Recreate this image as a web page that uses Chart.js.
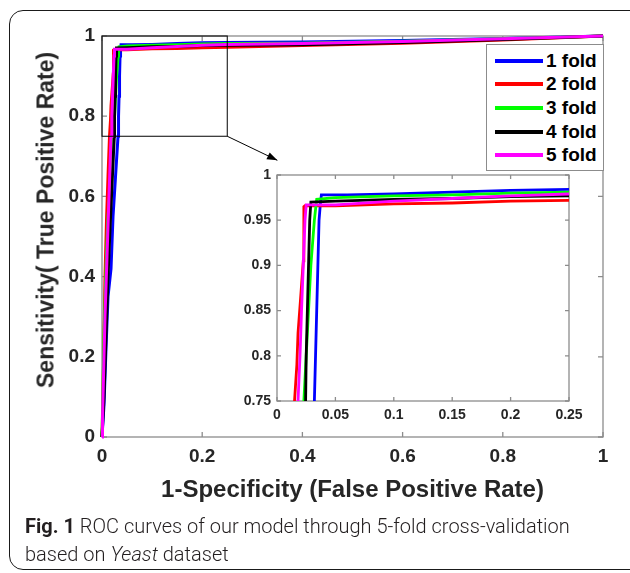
<!DOCTYPE html>
<html>
<head>
<meta charset="utf-8">
<script src="https://cdn.jsdelivr.net/npm/chart.js@4/dist/chart.umd.min.js"></script>
<style>
body { margin: 0; background: #fff; width: 630px; height: 573px; overflow: hidden; position: relative; }
#frame { position: absolute; left: 9px; top: 10px; width: 640px; height: 560px; border: 1.5px solid #1a1a1a; border-radius: 14px; box-sizing: border-box; }
#main { position: absolute; left: 0; top: 0; }
#inset { position: absolute; left: 225px; top: 160px; }
#ylabel { position: absolute; left: 46px; top: 220px; transform: translate(-50%, -50%) rotate(-90deg); white-space: nowrap; font: bold 23px "Liberation Sans", Arial, sans-serif; color: #262626; line-height: 1; }
#legend { position: absolute; left: 486px; top: 44px; width: 118px; height: 127px; box-sizing: border-box; border: 1px solid #8c8c8c; background: #fff; padding-top: 4px; }
#legend .row { height: 23.6px; display: flex; align-items: center; font: bold 19px "Liberation Sans", Arial, sans-serif; color: #000; }
#legend .sw { width: 48px; height: 4px; margin-left: 8px; margin-right: 3px; }
#caption { position: absolute; left: 25px; top: 512px; font-family: Roboto, sans-serif; font-weight: 300; font-size: 20px; line-height: 28px; color: #231f20; }
#caption b { font-weight: 700; }
</style>
</head>
<body>
<div id="frame"></div>
<canvas id="main" width="630" height="520"></canvas>
<canvas id="inset" width="370" height="270"></canvas>
<div id="ylabel">Sensitivity( True Positive Rate)</div>
<div id="legend"></div>
<div id="caption"><b>Fig. 1</b> ROC curves of our model through 5-fold cross-validation<br>based on <i>Yeast</i> dataset</div>
<script>
const foldNames = ['1 fold', '2 fold', '3 fold', '4 fold', '5 fold'];
const foldColors = ['#0000ff', '#ff0000', '#00ff00', '#000000', '#ff00ff'];

// ROC points (FPR, TPR)
const fpr1 = [0, 0.004, 0.008, 0.012, 0.018, 0.022, 0.027, 0.032, 0.033, 0.034, 0.035, 0.036, 0.037, 0.038, 0.06, 0.1, 0.15, 0.2, 0.25, 0.4, 0.6, 0.8, 1];
const tpr1 = [0, 0.08, 0.22, 0.35, 0.42, 0.55, 0.65, 0.75, 0.80, 0.85, 0.90, 0.95, 0.966, 0.978, 0.978, 0.979, 0.981, 0.983, 0.984, 0.985, 0.989, 0.994, 1];
const fpr2 = [0, 0.002, 0.004, 0.006, 0.009, 0.012, 0.015, 0.017, 0.018, 0.020, 0.0225, 0.023, 0.024, 0.05, 0.1, 0.15, 0.2, 0.25, 0.4, 0.6, 0.8, 1];
const tpr2 = [0, 0.1, 0.25, 0.4, 0.54, 0.65, 0.75, 0.79, 0.825, 0.86, 0.905, 0.965, 0.966, 0.966, 0.968, 0.969, 0.971, 0.972, 0.976, 0.982, 0.99, 1];
const fpr3 = [0, 0.002, 0.004, 0.008, 0.012, 0.018, 0.023, 0.025, 0.027, 0.029, 0.032, 0.033, 0.034, 0.05, 0.1, 0.15, 0.2, 0.25, 0.4, 0.6, 0.8, 1];
const tpr3 = [0, 0.12, 0.25, 0.42, 0.55, 0.65, 0.75, 0.8, 0.85, 0.9, 0.95, 0.962, 0.973, 0.975, 0.977, 0.978, 0.98, 0.981, 0.982, 0.987, 0.993, 1];
const fpr4 = [0, 0.004, 0.008, 0.012, 0.016, 0.02, 0.0245, 0.025, 0.026, 0.027, 0.028, 0.029, 0.05, 0.1, 0.15, 0.2, 0.25, 0.4, 0.6, 0.8, 1];
const tpr4 = [0, 0.1, 0.25, 0.4, 0.52, 0.63, 0.75, 0.8, 0.85, 0.9, 0.95, 0.97, 0.971, 0.973, 0.974, 0.976, 0.977, 0.978, 0.984, 0.991, 1];
const fpr5 = [0, 0.001, 0.003, 0.006, 0.01, 0.014, 0.018, 0.0197, 0.021, 0.0225, 0.024, 0.025, 0.05, 0.1, 0.15, 0.2, 0.25, 0.4, 0.6, 0.8, 1];
const tpr5 = [0, 0.05, 0.15, 0.3, 0.45, 0.6, 0.75, 0.8, 0.85, 0.9, 0.95, 0.967, 0.967, 0.971, 0.974, 0.977, 0.979, 0.981, 0.986, 0.993, 1];

const mainTicks = [0, 0.2, 0.4, 0.6, 0.8, 1];
const insetXTicks = [0, 0.05, 0.1, 0.15, 0.2, 0.25];
const insetYTicks = [0.75, 0.8, 0.85, 0.9, 0.95, 1];
const zoomX = [0, 0.25];
const zoomY = [0.75, 1];
const arrowTip = [0.35, 0.69];

const folds = [[fpr1, tpr1], [fpr2, tpr2], [fpr3, tpr3], [fpr4, tpr4], [fpr5, tpr5]];
const TXT = '#262626';
const AXC = '#8c8c8c';

function makeDatasets(width, clip) {
    return folds.map((f, i) => ({
	label: foldNames[i],
	data: f[0].map((v, j) => ({x: v, y: f[1][j]})),
	borderColor: foldColors[i],
	borderWidth: width,
	pointRadius: 0,
	showLine: true,
	tension: 0,
	order: 4 - i,
	clip: clip
    }));
}

// matlab style box with inward ticks on all four sides
function boxPlugin(tickLen) {
    return {
	id: 'box',
	beforeDatasetsDraw(chart) {
	    const {ctx, chartArea: a, scales: {x, y}} = chart;
	    ctx.save();
	    ctx.strokeStyle = AXC;
	    ctx.lineWidth = 1.3;
	    ctx.strokeRect(a.left, a.top, a.right - a.left, a.bottom - a.top);
	    ctx.beginPath();
	    for (const t of x.ticks) {
		const px = x.getPixelForValue(t.value);
		ctx.moveTo(px, a.bottom); ctx.lineTo(px, a.bottom - tickLen);
		ctx.moveTo(px, a.top); ctx.lineTo(px, a.top + tickLen);
	    }
	    for (const t of y.ticks) {
		const py = y.getPixelForValue(t.value);
		ctx.moveTo(a.left, py); ctx.lineTo(a.left + tickLen, py);
		ctx.moveTo(a.right, py); ctx.lineTo(a.right - tickLen, py);
	    }
	    ctx.stroke();
	    ctx.restore();
	}
    };
}

const zoomMarker = {
    id: 'zoomMarker',
    afterDatasetsDraw(chart) {
	const {ctx, scales: {x, y}} = chart;
	const x0 = x.getPixelForValue(zoomX[0]), x1 = x.getPixelForValue(zoomX[1]);
	const y0 = y.getPixelForValue(zoomY[0]), y1 = y.getPixelForValue(zoomY[1]);
	const tx = x.getPixelForValue(arrowTip[0]), ty = y.getPixelForValue(arrowTip[1]);
	ctx.save();
	ctx.strokeStyle = '#000';
	ctx.fillStyle = '#000';
	ctx.lineWidth = 1;
	ctx.strokeRect(x0, y1, x1 - x0, y0 - y1);
	ctx.beginPath();
	ctx.moveTo(x1, y0); ctx.lineTo(tx, ty);
	ctx.stroke();
	const ang = Math.atan2(ty - y0, tx - x1);
	ctx.beginPath();
	ctx.moveTo(tx, ty);
	ctx.lineTo(tx - 11 * Math.cos(ang - 0.35), ty - 11 * Math.sin(ang - 0.35));
	ctx.lineTo(tx - 11 * Math.cos(ang + 0.35), ty - 11 * Math.sin(ang + 0.35));
	ctx.closePath();
	ctx.fill();
	ctx.restore();
    }
};

function axis(min, max, ticks, fontSize, pad, fitKey, fitVal, title) {
    const ax = {
	type: 'linear', min: min, max: max,
	grid: {display: false, drawTicks: false},
	border: {display: false},
	afterBuildTicks: s => { s.ticks = ticks.map(v => ({value: v})); },
	afterFit: s => { s[fitKey] = fitVal; },
	ticks: {
	    color: TXT, padding: pad, maxRotation: 0, autoSkip: false,
	    font: {family: '"Liberation Sans", Arial, sans-serif', size: fontSize, weight: 'bold'},
	    callback: v => String(v)
	}
    };
    if (title) ax.title = title;
    return ax;
}

const font = size => ({family: '"Liberation Sans", Arial, sans-serif', size: size, weight: 'bold'});

new Chart(document.getElementById('main'), {
    type: 'scatter',
    data: {datasets: makeDatasets(3, 2)},
    options: {
	responsive: false, animation: false,
	layout: {padding: {left: 0, top: 36, right: 27, bottom: 15}},
	plugins: {legend: {display: false}, tooltip: {enabled: false}},
	scales: {
	    x: axis(0, 1, mainTicks, 19, 8, 'height', 68,
		    {display: true, text: '1-Specificity (False Positive Rate)', color: TXT, font: font(24), padding: {top: 0, bottom: 0}}),
	    y: axis(0, 1, mainTicks, 19, 7, 'width', 102)
	}
    },
    plugins: [boxPlugin(5), zoomMarker]
});

new Chart(document.getElementById('inset'), {
    type: 'scatter',
    data: {datasets: makeDatasets(2.8, 0)},
    options: {
	responsive: false, animation: false,
	layout: {padding: {left: 0, top: 15, right: 26, bottom: 0}},
	plugins: {legend: {display: false}, tooltip: {enabled: false}},
	scales: {
	    x: axis(zoomX[0], zoomX[1], insetXTicks, 14, 6, 'height', 29),
	    y: axis(zoomY[0], zoomY[1], insetYTicks, 14, 6, 'width', 52)
	}
    },
    plugins: [boxPlugin(4)]
});

const legend = document.getElementById('legend');
foldNames.forEach((name, i) => {
    const row = document.createElement('div');
    row.className = 'row';
    row.innerHTML = '<span class="sw" style="background:' + foldColors[i] + '"></span>' + name;
    legend.appendChild(row);
});
</script>
</body>
</html>
